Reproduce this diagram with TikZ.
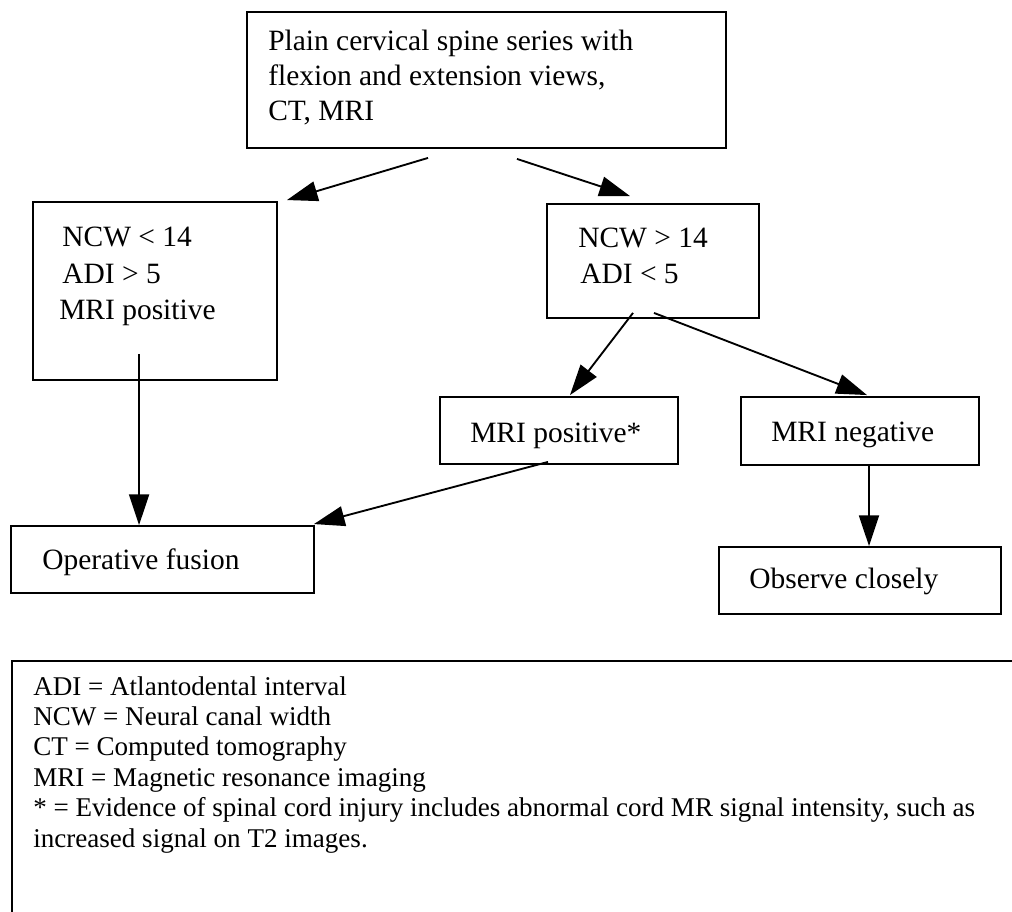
\documentclass[tikz,border=0pt]{standalone}
\usepackage{fontspec}
\setmainfont{Liberation Serif}
\usetikzlibrary{arrows.meta,fit}
\begin{document}
\begin{tikzpicture}[x=0.75pt,y=-0.75pt,
  box/.style={draw,line width=1.4pt,inner sep=0pt,rectangle},
  txt/.style={inner sep=0pt,anchor=base west,align=left,font=\fontsize{22.1}{26.25}\selectfont},
  txtwide/.style={inner sep=0pt,anchor=base west,align=left,font=\fontsize{22.1}{27.4}\selectfont},
  legtxt/.style={inner sep=0pt,anchor=base west,align=left,font=\fontsize{20.3}{22.8}\selectfont},
  arr/.style={line width=1.4pt,-{Triangle[length=23pt,width=15pt]}}]
\useasboundingbox (0,0) rectangle (1012,912);
% boxes
\node[box,fit={(247,12) (726,148)}] (top) {};
\node[box,fit={(33,202) (277,380)}] (L) {};
\node[box,fit={(547,204) (759,318)}] (M) {};
\node[box,fit={(440,397) (678,464)}] (P) {};
\node[box,fit={(741,397) (979,465)}] (N) {};
\node[box,fit={(11,526) (314,593)}] (Op) {};
\node[box,fit={(719,547) (1001,614)}] (O) {};
% texts (anchored at the baseline of their last line)
\node[txt] (ttop) at (268,121) {Plain cervical spine series with\\flexion and extension views,\\CT, MRI};
\node[txtwide] (tL) at (59,320) {\hspace{2.3pt}NCW < 14\\\hspace{2.3pt}ADI > 5\\MRI positive};
\node[txtwide] (tM) at (578,284) {NCW > 14\\\hspace{1.5pt}ADI < 5};
\node[txt] (tP) at (470,442) {MRI positive*};
\node[txt] (tN) at (771,441) {MRI negative};
\node[txt] (tOp) at (42,569) {Operative fusion};
\node[txt] (tO) at (749,588) {Observe closely};
% arrows
\draw[arr] ([shift={(-58.5,9)}]top.south) -- ([shift={(9,-1)}]L.north east);
\draw[arr] ([shift={(30.5,10)}]top.south) -- ([shift={(-23,-7)}]M.north);
\draw[arr] ([shift={(107,-27)}]L.south west) -- ([shift={(129,0)}]Op.north west);
\draw[arr] ([shift={(-20,-6)}]M.south) -- ([shift={(11,-1)}]P.north);
\draw[arr] ([shift={(1,-6)}]M.south) -- ([shift={(7,-1)}]N.north);
\draw[arr] ([shift={(-11,-3)}]P.south) -- ([shift={(-1,-1)}]Op.north east);
\draw[arr] ([shift={(9,0)}]N.south) -- ([shift={(9,0)}]O.north);
% legend frame (cut off at right and bottom)
\coordinate (legR) at (1012,661);
\coordinate (legB) at (12,912);
\draw[line width=1.4pt] (legR) -| (legB);
\node[legtxt] (leg) at (33,847) {ADI = Atlantodental interval\\
NCW = Neural canal width\\
CT = Computed tomography\\
MRI = Magnetic resonance imaging\\
* = Evidence of spinal cord injury includes abnormal cord MR signal intensity, such as\\
increased signal on T2 images.};
\end{tikzpicture}
\end{document}
